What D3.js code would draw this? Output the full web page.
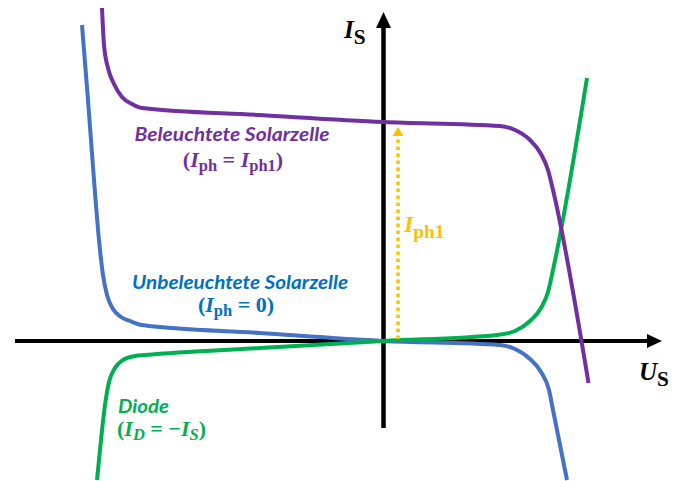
<!DOCTYPE html>
<html>
<head>
<meta charset="utf-8">
<script src="https://cdn.jsdelivr.net/npm/d3@7"></script>
<style>
  body { margin: 0; background: #fff; }
  svg { display: block; }
</style>
</head>
<body>
<script>
// Characteristic curves of a solar cell (U_S in x, I_S in y, arbitrary units)
const darkU  = [-6.03, -5.91, -5.79, -5.69, -5.61, -5.53, -5.41, -5.25, -5.07, -4.83, -2.47, 0, 2.33, 2.63, 2.93, 3.15, 3.31, 3.39, 3.67];
const darkI  = [ 6.32,  4.82,  3.22,  2.02,  1.32,  0.92,  0.64,  0.48,  0.40,  0.32,  0.16, 0, -0.08, -0.16, -0.36, -0.62, -0.98, -1.38, -2.78];

const lightU = [-5.63, -5.59, -5.51, -5.39, -5.23, -5.03, -4.83, -2.47, 0, 2.33, 2.63, 2.93, 3.15, 3.29, 3.39, 4.10];
const lightI = [ 6.66,  5.92,  5.46,  5.14,  4.88,  4.74,  4.66,  4.52, 4.38, 4.30, 4.22, 4.02, 3.74, 3.42, 3.02, -0.84];

const diodeU = [-5.73, -5.65, -5.57, -5.49, -5.37, -5.21, -4.97, -4.77, -2.47, 0, 2.27, 2.63, 2.93, 3.15, 3.29, 3.39, 4.07];
const diodeI = [-2.78, -1.98, -1.28, -0.82, -0.54, -0.38, -0.30, -0.28, -0.14, 0, 0.12, 0.20, 0.40, 0.66, 0.98, 1.42, 5.26];

const iph1 = 4.38;         // photocurrent: light curve at U = 0
const iph1ArrowU = 0.29;   // where the photocurrent arrow is drawn

const uRange = [-7.37, 5.57];
const iRange = [-1.74, 6.58];

const W = 679, H = 481;
const svg = d3.select("body").append("svg").attr("width", W).attr("height", H);

const x = d3.scaleLinear().domain(uRange).range([15, 662]);
const y = d3.scaleLinear().domain(iRange).range([428, 12]);

const line = d3.line().x(d => x(d[0])).y(d => y(d[1])).curve(d3.curveMonotoneX);

// axes
const axisColor = "#000";
svg.append("line")
  .attr("x1", x(uRange[0])).attr("x2", x(uRange[1]) - 9)
  .attr("y1", y(0)).attr("y2", y(0))
  .attr("stroke", axisColor).attr("stroke-width", 4);
svg.append("path")
  .attr("d", `M${x(uRange[1])},${y(0)} L${x(uRange[1]) - 15},${y(0) - 7} L${x(uRange[1]) - 15},${y(0) + 7} Z`)
  .attr("fill", axisColor);
svg.append("line")
  .attr("x1", x(0)).attr("x2", x(0))
  .attr("y1", y(iRange[0])).attr("y2", y(iRange[1]) + 9)
  .attr("stroke", axisColor).attr("stroke-width", 4.5);
svg.append("path")
  .attr("d", `M${x(0)},${y(iRange[1])} L${x(0) - 7.5},${y(iRange[1]) + 16} L${x(0) + 7.5},${y(iRange[1]) + 16} Z`)
  .attr("fill", axisColor);

// curves
const series = [
  { u: darkU,  i: darkI,  color: "#4472C4" },
  { u: diodeU, i: diodeI, color: "#00B050" },
  { u: lightU, i: lightI, color: "#7030A0" }
];
series.forEach(s => {
  svg.append("path")
    .datum(s.u.map((u, k) => [u, s.i[k]]))
    .attr("d", line)
    .attr("fill", "none")
    .attr("stroke", s.color)
    .attr("stroke-width", 4)
    .attr("stroke-linejoin", "round");
});

// photocurrent arrow
const yellow = "#FFC000";
const ax = x(iph1ArrowU);
const tipY = y(iph1) + 5;
svg.append("line")
  .attr("x1", ax).attr("x2", ax)
  .attr("y1", y(0) - 2).attr("y2", tipY + 9)
  .attr("stroke", yellow).attr("stroke-width", 3.5)
  .attr("stroke-dasharray", "3.5,3.5");
svg.append("path")
  .attr("d", `M${ax},${tipY} L${ax - 5.5},${tipY + 9} L${ax + 5.5},${tipY + 9} Z`)
  .attr("fill", yellow);

// text helpers
const mathFont = "'Liberation Serif', 'DejaVu Serif', serif";
const textFont = "Lato, 'Open Sans', sans-serif";

function mathLabel(parts, px, py, color, size, anchor) {
  const t = svg.append("text")
    .attr("x", px).attr("y", py)
    .attr("fill", color)
    .attr("font-family", mathFont)
    .attr("font-weight", "bold")
    .attr("font-size", size)
    .attr("text-anchor", anchor || "start");
  parts.forEach(p => {
    const ts = t.append("tspan").text(p.t);
    if (p.italic) ts.attr("font-style", "italic");
    if (p.sub) ts.attr("font-size", size * (p.scale || 0.75)).attr("dy", p.sub);
    if (p.up) ts.attr("dy", -p.up);
  });
  return t;
}

function wordLabel(str, px, py, color, len, anchor) {
  svg.append("text")
    .attr("x", px).attr("y", py)
    .attr("fill", color)
    .attr("font-family", textFont)
    .attr("font-weight", "bold")
    .attr("font-style", "italic")
    .attr("font-size", 19)
    .attr("text-anchor", anchor || "middle")
    .attr("textLength", len)
    .attr("lengthAdjust", "spacingAndGlyphs")
    .text(str);
}

const eq = "\u2005=\u2005";

// axis titles
mathLabel([{ t: "I", italic: true }, { t: "S", sub: 6, scale: 0.85 }], 344, 38, "#000", 25);
mathLabel([{ t: "U", italic: true }, { t: "S", sub: 6, scale: 0.85 }], 639, 380, "#000", 25);

// curve labels
wordLabel("Beleuchtete Solarzelle", 232, 141, "#7030A0", 195);
mathLabel([
  { t: "(" }, { t: "I", italic: true }, { t: "ph", sub: 4 }, { t: eq, up: 4 },
  { t: "I", italic: true }, { t: "ph1", sub: 4 }, { t: ")", up: 4 }
], 233, 167, "#7030A0", 22, "middle");

wordLabel("Unbeleuchtete Solarzelle", 240, 289, "#0070C0", 216);
mathLabel([
  { t: "(" }, { t: "I", italic: true }, { t: "ph", sub: 4 }, { t: eq + "0)", up: 4 }
], 236, 312, "#0070C0", 22, "middle");

wordLabel("Diode", 118, 413, "#00B050", 51, "start");
mathLabel([
  { t: "(" }, { t: "I", italic: true }, { t: "D", italic: true, sub: 4 }, { t: eq + "\u2212", up: 4 },
  { t: "I", italic: true }, { t: "S", italic: true, sub: 4 }, { t: ")", up: 4 }
], 117, 436, "#00B050", 22);

mathLabel([{ t: "I", italic: true }, { t: "ph1", sub: 6, scale: 0.8 }], 404, 232, yellow, 24);
</script>
</body>
</html>
